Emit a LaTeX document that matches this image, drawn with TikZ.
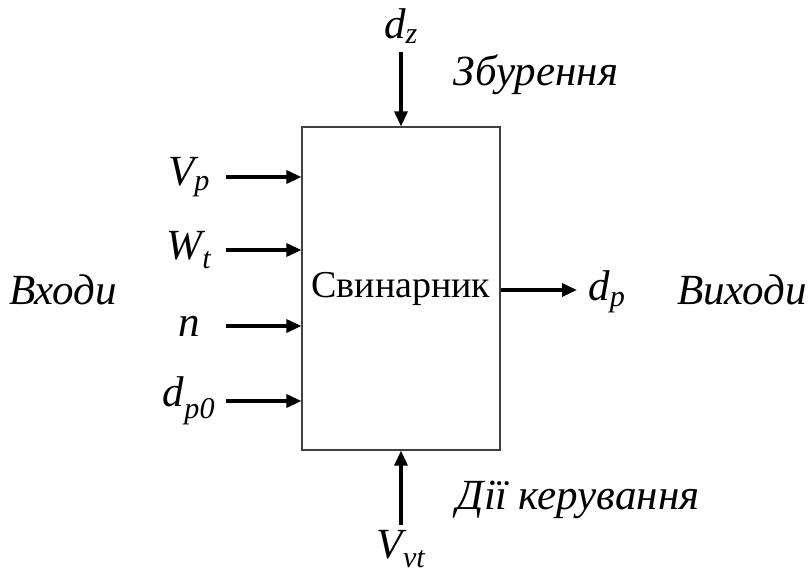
\documentclass[tikz,border=0pt]{standalone}
\usepackage{fontspec}
\setmainfont{Liberation Serif}
\usetikzlibrary{arrows.meta,positioning}
\newcommand{\lv}[2]{\textit{#1}\textsubscript{\textit{#2}}}
\begin{document}
\begin{tikzpicture}[x=1pt,y=-1pt, node distance=4pt,
  lbl/.style={inner sep=0pt,font=\fontsize{43}{46}\selectfont\itshape},
  blk/.style={draw=black!75,line width=1.2pt,minimum width=198pt,minimum height=323pt,inner sep=0pt,font=\fontsize{38}{42}\selectfont},
  arr/.style={-{Triangle[length=15pt,width=13pt]},line width=3.2pt}]
\useasboundingbox (0,0) rectangle (811,568);
\node[blk] (box) at (401,288.5) {Свинарник};
% inputs
\foreach \y/\nm/\t in {177/vp/{\lv{V}{p}},250/wt/{\lv{W}{t}},326/n/{\textit{n}},401/dp0/{\lv{d}{p0}}}{
  \coordinate (\nm-s) at (226,\y);
  \node[lbl] (\nm) at (189,\y) {\t};
  \draw[arr] (\nm-s) -- (\nm-s -| box.west);
}
\node[lbl] (vh) at (63,290) {Входи};
% disturbance
\node[lbl] (dz) at (401,26) {\lv{d}{z}};
\coordinate (dz-s) at (401,52);
\draw[arr] (dz-s) -- (box.north);
\node[lbl] (zb) at (536,75) {Збурення};
% control
\node[lbl] (vvt) at (401,549) {\lv{V}{vt}};
\coordinate (vvt-s) at (401,525);
\draw[arr] (vvt-s) -- (box.south);
\node[lbl] (dk) at (578,500) {Дії керування};
% output
\coordinate (dp-e) at (577,290);
\draw[arr] (box.east |- dp-e) -- (dp-e);
\node[lbl] (dp) at (607,292) {\lv{d}{p}};
\node[lbl] (vyh) at (742,290) {Виходи};
\end{tikzpicture}
\end{document}
